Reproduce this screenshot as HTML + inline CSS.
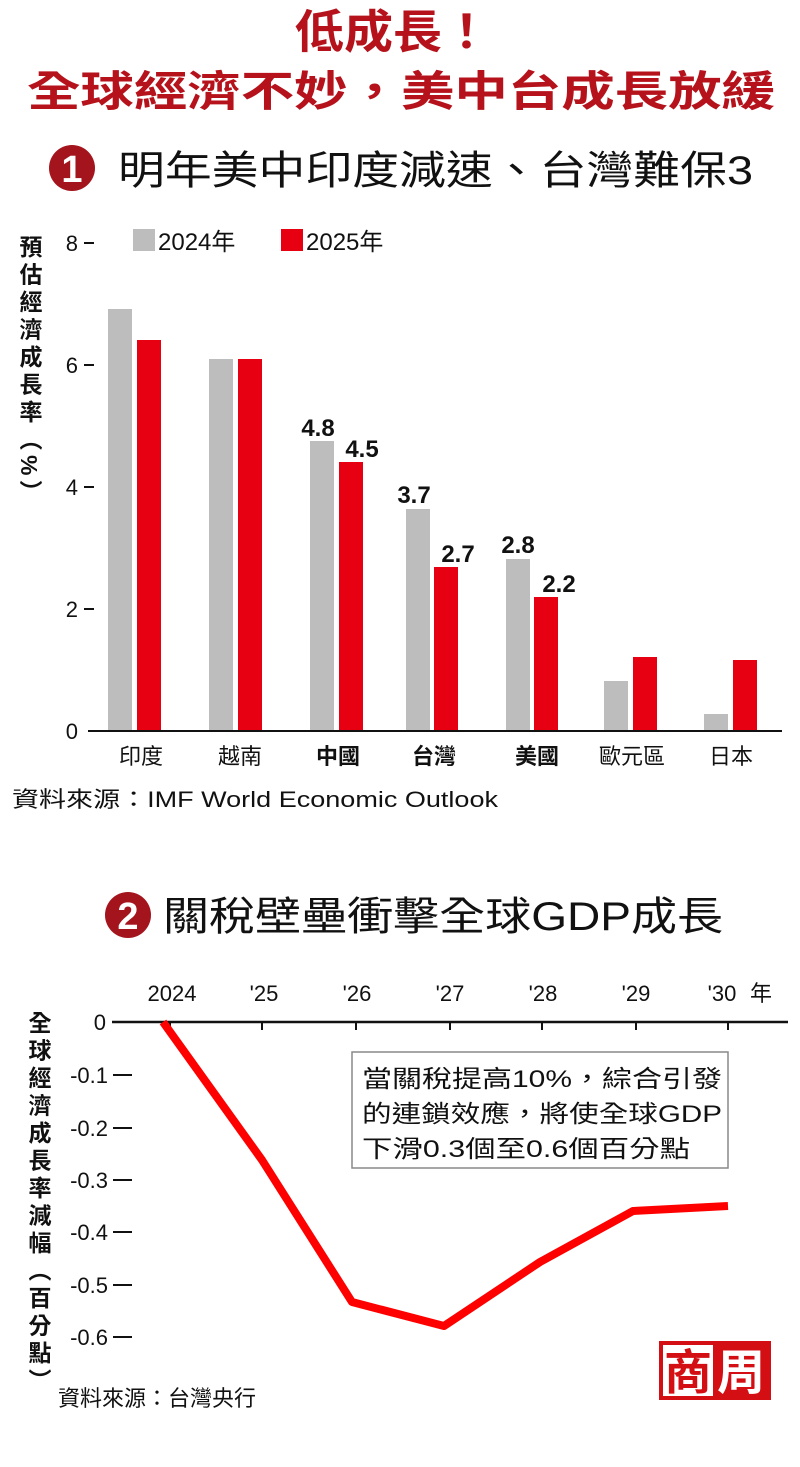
<!DOCTYPE html>
<html><head><meta charset="utf-8"><style>
body{margin:0;background:#fff;}
svg text{font-family:"Liberation Sans","Noto Sans CJK TC",sans-serif;}
</style></head><body>
<svg width="800" height="1462" viewBox="0 0 800 1462" xmlns="http://www.w3.org/2000/svg">
<text x="393" y="48" text-anchor="middle" font-size="46" font-weight="bold" fill="#b5121b" textLength="196" lengthAdjust="spacingAndGlyphs">低成長！</text>
<text x="401" y="106" text-anchor="middle" font-size="42" font-weight="bold" fill="#b5121b" textLength="748" lengthAdjust="spacingAndGlyphs">全球經濟不妙，美中台成長放緩</text>
<circle cx="72" cy="168" r="23" fill="#a3141c"/>
<text x="72" y="182" text-anchor="middle" font-size="38" font-weight="bold" fill="#fff">1</text>
<text x="118" y="184" font-size="40" fill="#111" textLength="635" lengthAdjust="spacingAndGlyphs">明年美中印度減速、台灣難保3</text>
<!-- chart 1 -->
<text x="29" y="235" font-size="23" font-weight="bold" fill="#111" writing-mode="tb" letter-spacing="4.5">預估經濟成長率（%）</text>
<g font-size="22" fill="#111" text-anchor="end">
<text x="78" y="251">8</text><text x="78" y="373">6</text><text x="78" y="495">4</text><text x="78" y="617">2</text><text x="78" y="739">0</text>
</g>
<g stroke="#111" stroke-width="2"><line x1="84" y1="243" x2="94" y2="243"/><line x1="84" y1="365" x2="94" y2="365"/><line x1="84" y1="487" x2="94" y2="487"/><line x1="84" y1="609" x2="94" y2="609"/></g>
<rect x="133" y="229" width="22" height="22" fill="#bdbdbd"/><text x="158" y="250" font-size="24" fill="#111">2024年</text>
<rect x="281" y="229" width="22" height="22" fill="#e60012"/><text x="306" y="250" font-size="24" fill="#111">2025年</text>
<g fill="#bdbdbd">
<rect x="108" y="309" width="24" height="422"/><rect x="209" y="359" width="24" height="372"/><rect x="310" y="441" width="24" height="290"/><rect x="406" y="509" width="24" height="222"/><rect x="506" y="559" width="24" height="172"/><rect x="604" y="681" width="24" height="50"/><rect x="704" y="714" width="24" height="17"/>
</g>
<g fill="#e60012">
<rect x="137" y="340" width="24" height="391"/><rect x="238" y="359" width="24" height="372"/><rect x="339" y="462" width="24" height="269"/><rect x="434" y="567" width="24" height="164"/><rect x="534" y="597" width="24" height="134"/><rect x="633" y="657" width="24" height="74"/><rect x="733" y="660" width="24" height="71"/>
</g>
<line x1="88" y1="731" x2="782" y2="731" stroke="#111" stroke-width="2"/>
<g font-size="24" font-weight="bold" fill="#111" text-anchor="middle">
<text x="318" y="436">4.8</text><text x="362" y="457">4.5</text><text x="414" y="503">3.7</text><text x="458" y="562">2.7</text><text x="518" y="553">2.8</text><text x="559" y="592">2.2</text>
</g>
<g font-size="22" fill="#111" text-anchor="middle">
<text x="141" y="764">印度</text><text x="240" y="764">越南</text><text x="338" y="764" font-weight="bold">中國</text><text x="434" y="764" font-weight="bold">台灣</text><text x="537" y="764" font-weight="bold">美國</text><text x="632" y="764">歐元區</text><text x="731" y="764">日本</text>
</g>
<text x="12" y="807" font-size="22" fill="#111" textLength="486" lengthAdjust="spacingAndGlyphs">資料來源：IMF World Economic Outlook</text>
<!-- chart 2 -->
<circle cx="128" cy="915" r="23" fill="#a3141c"/>
<text x="128" y="929" text-anchor="middle" font-size="38" font-weight="bold" fill="#fff">2</text>
<text x="163" y="930" font-size="40" fill="#111" textLength="560" lengthAdjust="spacingAndGlyphs">關稅壁壘衝擊全球GDP成長</text>
<g font-size="22" fill="#111" text-anchor="middle">
<text x="172" y="1001">2024</text><text x="264" y="1001">'25</text><text x="357" y="1001">'26</text><text x="450" y="1001">'27</text><text x="543" y="1001">'28</text><text x="636" y="1001">'29</text><text x="722" y="1001">'30</text><text x="761" y="1001">年</text>
</g>
<line x1="112" y1="1022" x2="788" y2="1022" stroke="#111" stroke-width="2.5"/>
<g stroke="#111" stroke-width="2"><line x1="170" y1="1022" x2="170" y2="1030"/><line x1="262" y1="1022" x2="262" y2="1030"/><line x1="356" y1="1022" x2="356" y2="1030"/><line x1="450" y1="1022" x2="450" y2="1030"/><line x1="542" y1="1022" x2="542" y2="1030"/><line x1="636" y1="1022" x2="636" y2="1030"/><line x1="728" y1="1022" x2="728" y2="1030"/></g>
<g font-size="22" fill="#111" text-anchor="end">
<text x="106" y="1030">0</text><text x="108" y="1083">-0.1</text><text x="108" y="1136">-0.2</text><text x="108" y="1188">-0.3</text><text x="108" y="1240">-0.4</text><text x="108" y="1293">-0.5</text><text x="108" y="1345">-0.6</text>
</g>
<g stroke="#111" stroke-width="2"><line x1="113" y1="1075" x2="132" y2="1075"/><line x1="113" y1="1128" x2="132" y2="1128"/><line x1="113" y1="1180" x2="132" y2="1180"/><line x1="113" y1="1232" x2="132" y2="1232"/><line x1="113" y1="1285" x2="132" y2="1285"/><line x1="113" y1="1337" x2="132" y2="1337"/></g>
<text x="38" y="1011" font-size="23" font-weight="bold" fill="#111" writing-mode="tb" letter-spacing="4.5">全球經濟成長率減幅（百分點）</text>
<polyline points="163,1022 262,1160 352,1302 444,1326 540,1262 633,1211 728,1206" fill="none" stroke="#ff0000" stroke-width="8" stroke-linejoin="round"/>
<rect x="352" y="1052" width="376" height="116" fill="#fff" stroke="#888" stroke-width="1.5"/>
<g font-size="24" fill="#111">
<text x="362" y="1087" textLength="360" lengthAdjust="spacingAndGlyphs">當關稅提高10%，綜合引發</text><text x="362" y="1122" textLength="360" lengthAdjust="spacingAndGlyphs">的連鎖效應，將使全球GDP</text><text x="362" y="1157" textLength="328" lengthAdjust="spacingAndGlyphs">下滑0.3個至0.6個百分點</text>
</g>
<text x="58" y="1406" font-size="22" fill="#111">資料來源：台灣央行</text>
<rect x="659" y="1341" width="112" height="59" fill="#d40f14"/>
<rect x="663" y="1345" width="50" height="51" fill="#fff"/>
<text x="688" y="1389" text-anchor="middle" font-size="48" font-weight="bold" fill="#d40f14">商</text>
<text x="741" y="1389" text-anchor="middle" font-size="48" font-weight="bold" fill="#fff">周</text>
</svg>
</body></html>
